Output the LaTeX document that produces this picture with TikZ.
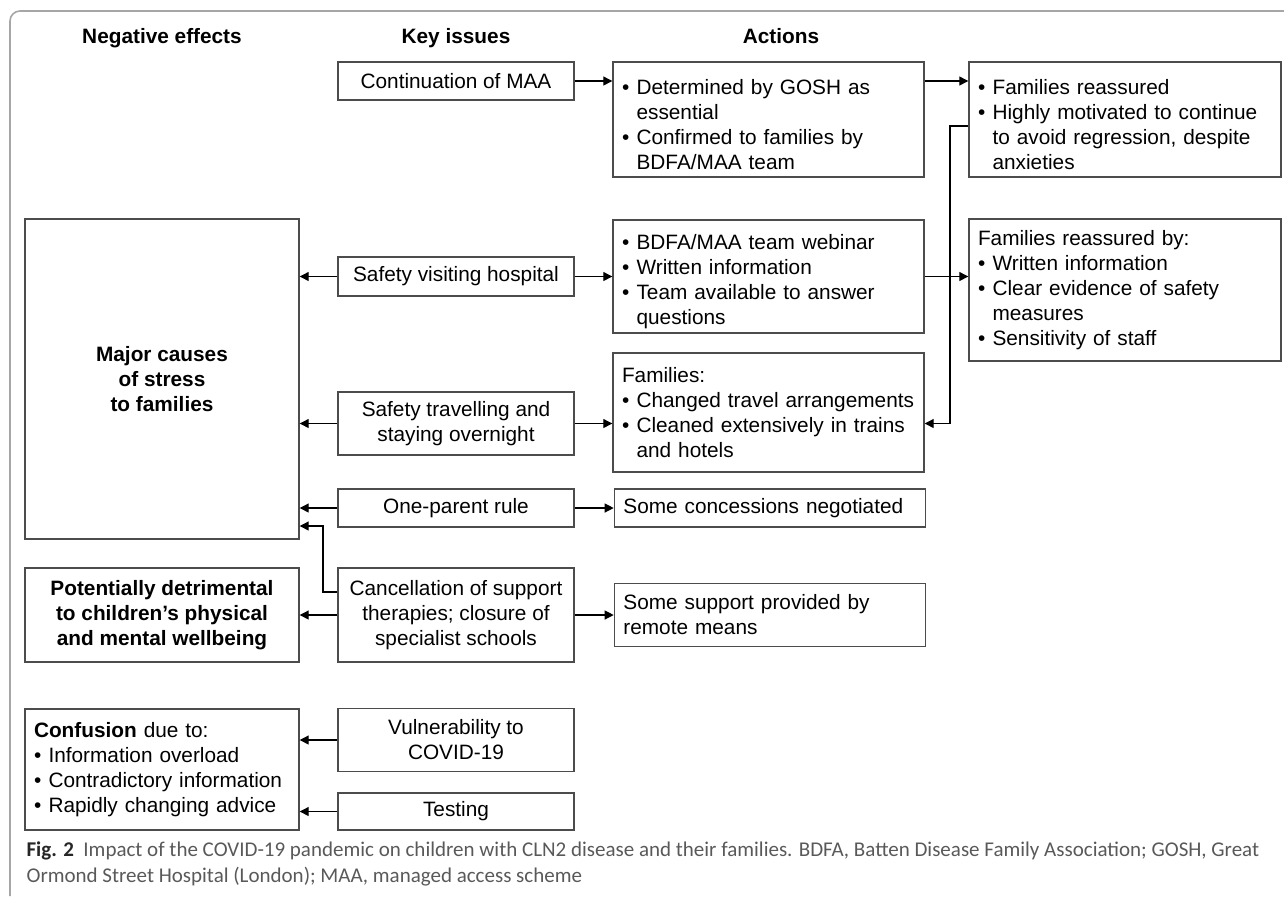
\documentclass[tikz,border=0pt]{standalone}
\usepackage{fontspec}
\setmainfont{Liberation Sans}
\newfontfamily\capfont{Carlito}
\usetikzlibrary{arrows.meta, positioning}

\newcommand{\bul}[1]{\par\noindent\hangindent=0.7em\hangafter=1\makebox[0.7em][l]{\textbullet}#1\par}

\begin{document}
\begin{tikzpicture}[x=0.5pt, y=-0.5pt, >={Triangle[length=4.5pt,width=4.5pt]}, node distance=19.5pt,
  every node/.style={font=\fontsize{10.4}{12.5}\selectfont},
  head/.style={font=\fontsize{10.4}{12.5}\selectfont\bfseries, anchor=base},
  box/.style={draw=black!70, line width=0.7pt, inner xsep=4.5pt, inner ysep=0pt},
  keybox/.style={box, minimum width=118pt, align=center},
  actbox/.style={box, text width=146.5pt, align=left, execute at begin node={\parindent=0pt\hyphenpenalty=10000}},
  resbox/.style={actbox, text width=147pt},
  negbox/.style={box, minimum width=137pt, align=center, font=\fontsize{10.4}{12.5}\selectfont\bfseries},
  every path/.style={line width=0.6pt}]
\useasboundingbox (0,0) rectangle (1284,896);
\draw[gray!70, line width=0.8pt, rounded corners=5pt] (10,896) -- (10,11) -- (1284,11);

\node[head] (hneg) at (162,43) {Negative effects};
\node[head] (hkey) at (456,43) {Key issues};
\node[head] (hact) at (781,43) {Actions};

\node[keybox, minimum height=19pt] (k1) at (456,81) {Continuation of MAA};
\node[keybox, minimum height=19.5pt] (k2) at (456,276.5) {Safety visiting hospital};
\node[keybox, minimum height=31.5pt] (k3) at (456,423.5) {Safety travelling and\\staying overnight};
\node[keybox, minimum height=19pt] (k4) at (456,508) {One-parent rule};
\node[keybox, minimum height=47pt] (k5) at (456,615) {Cancellation of support\\therapies; closure of\\specialist schools};
\node[keybox, minimum height=31.5pt] (k6) at (456,740) {Vulnerability to\\COVID-19};
\node[keybox, minimum height=18.5pt] (k7) at (456,811.5) {Testing};

\node[actbox, minimum height=57.5pt] (a1) at (768.5,119.5) {\bul{Determined by GOSH as\newline essential}\bul{Confirmed to families by\newline BDFA/MAA team}};
\node[actbox, minimum height=56.5pt] (a2) at (768.5,276.5) {\bul{BDFA/MAA team webinar}\bul{Written information}\bul{Team available to answer\newline questions}};
\node[actbox, minimum height=59.5pt] (a3) at (768.5,412.5) {Families:\bul{Changed travel arrangements}\bul{Cleaned extensively in trains\newline and hotels}};
\node[actbox, minimum height=19pt, right=of k4] (a4) {Some concessions negotiated};
\node[actbox, minimum height=31.5pt, right=of k5] (a5) {Some support provided by\newline remote means};

\node[resbox, minimum height=57.5pt] (r1) at (1125,119.5) {\bul{Families reassured}\bul{Highly motivated to continue\newline to avoid regression, despite\newline anxieties}};
\node[resbox, minimum height=71pt] (r2) at (1125,290) {Families reassured by:\bul{Written information}\bul{Clear evidence of safety\newline measures}\bul{Sensitivity of staff}};

\node[negbox, minimum height=160pt] (n1) at (162,379) {Major causes\\of stress\\to families};
\node[negbox, minimum height=47pt] (n2) at (162,615) {Potentially detrimental\\to children’s physical\\and mental wellbeing};
\node[actbox, text width=128pt, minimum height=60.5pt] (n3) at (162,769.5) {\textbf{Confusion} due to:\bul{Information overload}\bul{Contradictory information}\bul{Rapidly changing advice}};

\draw[->] (k1.east) -- (k1.east -| a1.west);
\draw[->] (k2.west) -- (k2.west -| n1.east);
\draw[->] (k2.east) -- (k2.east -| a2.west);
\draw[->] (k3.west) -- (k3.west -| n1.east);
\draw[->] (k3.east) -- (k3.east -| a3.west);
\draw[->] (k4.west) -- (k4.west -| n1.east);
\draw[->] (k4) -- (a4);
\coordinate (kink) at (323,592);
\draw[->] (k5.west |- kink) -- (kink) |- (n1.east |- 0,526);
\draw[->] (k5) -- (n2);
\draw[->] (k5) -- (a5);
\draw[->] (k6.west) -- (k6.west -| n3.east);
\draw[->] (k7.west) -- (k7.west -| n3.east);
\draw[->] (a1.east |- k1) -- (r1.west |- k1);
\draw[->] (a2.east) -- (a2.east -| r2.west);
\coordinate (turn) at (950,126);
\draw[->] (r1.west |- turn) -- (turn) |- (a3.east |- k3);

\node[anchor=north west, align=left, inner sep=0pt, text=black!65, font=\capfont\fontsize{10.5}{13}\selectfont] (cap) at (26,841) {\textbf{\color{black!85}Fig. 2}\ \ Impact of the COVID-19 pandemic on children with CLN2 disease and their families. BDFA, Batten Disease Family Association; GOSH, Great\\Ormond Street Hospital (London); MAA, managed access scheme};
\end{tikzpicture}
\end{document}
